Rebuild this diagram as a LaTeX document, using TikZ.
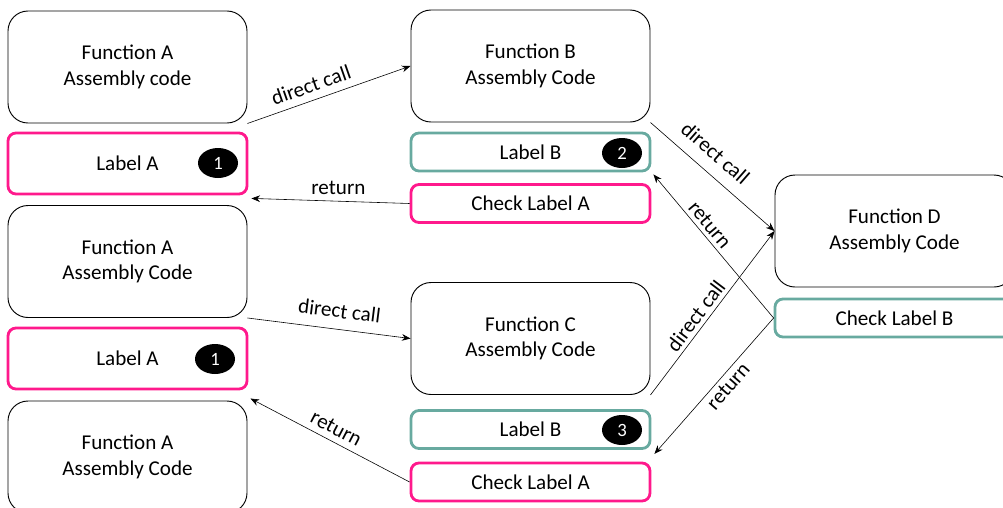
\documentclass[tikz,border=0pt]{standalone}
\usepackage{fontspec}
\setmainfont{Carlito}
\usetikzlibrary{arrows.meta,shapes.geometric}
\definecolor{labelpink}{RGB}{255,25,140}
\definecolor{labelteal}{RGB}{104,170,160}
\tikzset{
    every node/.style={font=\fontsize{18}{22}\selectfont},
    funcbox/.style={draw=black, line width=0.8pt, rounded corners=6mm,
        minimum width=71.7mm, minimum height=33.6mm, align=center},
    pinkbox/.style={draw=labelpink, line width=2.4pt, rounded corners=2.4mm,
        minimum width=71.7mm, minimum height=18.3mm},
    tealbox/.style={draw=labelteal, line width=2.4pt, rounded corners=2.4mm,
        minimum width=71.7mm, minimum height=11.4mm},
    numdot/.style={ellipse, fill=black, text=white, inner sep=0pt,
        minimum width=12mm, minimum height=9mm,
        font=\fontsize{16}{18}\selectfont},
    flow/.style={-{Stealth[length=2.6mm,width=2mm]}, line width=0.5pt}
}
\begin{document}
\begin{tikzpicture}[x=0.3mm,y=0.3mm]
    \useasboundingbox (0,0) rectangle (1003,-507);
    % left column
    \node[funcbox] (fa1) at (127.5,-67) {Function A\\Assembly code};
    \node[pinkbox] (la1) at (127.5,-163.5) {Label A};
    \node[numdot] (n1a) at (218,-163) {1};
    \node[funcbox] (fa2) at (127.5,-261.5) {Function A\\Assembly Code};
    \node[pinkbox] (la2) at (127.5,-358.5) {Label A};
    \node[numdot] (n1b) at (215,-359) {1};
    \node[funcbox] (fa3) at (127.5,-457) {Function A\\Assembly Code};
    % middle column
    \node[funcbox] (fb) at (530.5,-66) {Function B\\Assembly Code};
    \node[tealbox] (lb1) at (530.5,-152) {Label B};
    \node[numdot] (n2) at (622,-153) {2};
    \node[pinkbox, minimum height=11.4mm] (ca1) at (530.5,-203.5) {Check Label A};
    \node[funcbox] (fc) at (530.5,-338.5) {Function C\\Assembly Code};
    \node[tealbox] (lb2) at (530.5,-429.5) {Label B};
    \node[numdot] (n3) at (622,-430) {3};
    \node[pinkbox, minimum height=11.4mm] (ca2) at (530.5,-482) {Check Label A};
    % right column
    \node[funcbox] (fd) at (894.5,-231) {Function D\\Assembly Code};
    \node[tealbox] (cb) at (894.5,-318) {Check Label B};
    % calls and returns
    \draw[flow] (fa1.south east) -- (fb.west)
        node[pos=0.42, above=3pt, sloped] {direct call};
    \draw[flow] (ca1.west) -- ([shift={(3,-3)}]la1.south east)
        node[pos=0.45, above=2pt] {return};
    \draw[flow] (fa2.south east) -- (fc.west)
        node[pos=0.55, above=6pt, sloped] {direct call};
    \draw[flow] (ca2.west) -- ([shift={(3,2)}]fa3.north east)
        node[midway, above=2pt, sloped] {return};
    \draw[flow] (fb.south east) -- (fd.west)
        node[pos=0.42, above=7pt, sloped] {direct call};
    \draw[flow] (cb.west) -- ([shift={(2,-2)}]lb1.south east)
        node[pos=0.6, above, sloped] {return};
    \draw[flow] (fc.south east) -- (fd.west)
        node[pos=0.44, above, sloped] {direct call};
    \draw[flow] (cb.west) -- ([shift={(3,-4)}]lb2.south east)
        node[pos=0.45, below, sloped] {return};
\end{tikzpicture}
\end{document}
